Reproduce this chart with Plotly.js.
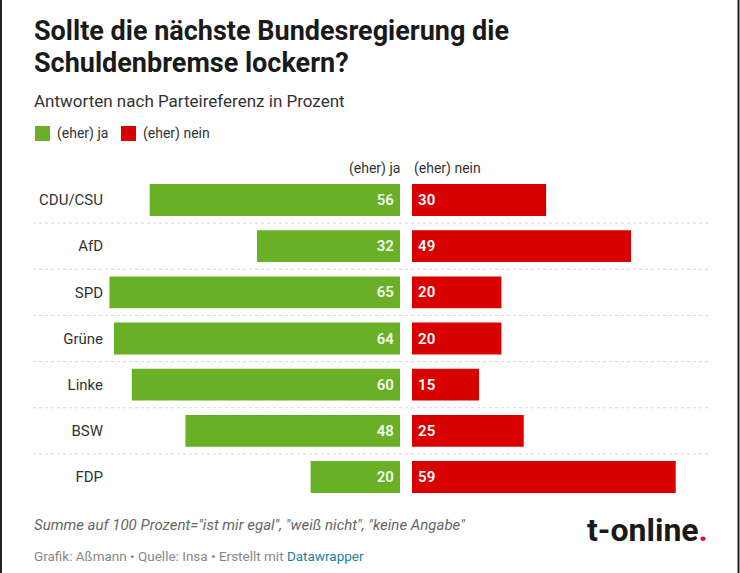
<!DOCTYPE html>
<html><head><meta charset="utf-8">
<script src="https://cdn.plot.ly/plotly-3.0.1.min.js"></script>
<style>html,body{margin:0;padding:0;background:#fff}#c{width:740px;height:573px}</style>
</head><body><div id="c"></div>
<script>
const parties = ["CDU/CSU","AfD","SPD","Grüne","Linke","BSW","FDP"];
const ja = [56,32,65,64,60,48,20];
const nein = [30,49,20,20,15,25,59];
const seriesNames = ["(eher) ja","(eher) nein"];
const colors = ["#69b027","#d90000"];

const W=740,H=573;
const px = x=>x/W, py = y=>1-y/H;
const unit = 4.47;
const jaZero=400, neinZero=412, maxV=70;

const traces = [
 {type:'bar',orientation:'h',y:parties,x:ja,xaxis:'x',yaxis:'y',name:seriesNames[0],
  marker:{color:colors[0]},width:0.69,text:ja.map(v=>v+'\u2009'),textposition:'inside',insidetextanchor:'start',
  textfont:{family:'Roboto',size:15,color:'#f4f9ee',weight:600},cliponaxis:false,hoverinfo:'skip'},
 {type:'bar',orientation:'h',y:parties,x:nein,xaxis:'x2',yaxis:'y2',name:seriesNames[1],
  marker:{color:colors[1]},width:0.69,text:nein.map(v=>'\u2009'+v),textposition:'inside',insidetextanchor:'start',
  textfont:{family:'Roboto',size:15,color:'#ffffff',weight:600},cliponaxis:false,hoverinfo:'skip'}
];

const rowTop=176.9,rowBot=500.1;
const shapes=[];
for(let i=0;i<parties.length-1;i++){
 shapes.push({type:'line',xref:'paper',yref:'y',x0:px(33),x1:px(708),y0:i+0.5,y1:i+0.5,
  line:{color:'#d6d6d6',width:1,dash:'dot'}});
}
shapes.push({type:'line',xref:'paper',yref:'paper',x0:px(1),x1:px(1),y0:0,y1:1,line:{color:'#222',width:2}});
shapes.push({type:'line',xref:'paper',yref:'paper',x0:px(738.5),x1:px(738.5),y0:0,y1:1,line:{color:'#222',width:2}});
// legend squares
shapes.push({type:'rect',xref:'paper',yref:'paper',x0:px(35),x1:px(50),y0:py(141),y1:py(126),fillcolor:colors[0],line:{width:0}});
shapes.push({type:'rect',xref:'paper',yref:'paper',x0:px(121),x1:px(136),y0:py(141),y1:py(126),fillcolor:colors[1],line:{width:0}});

const ann=[
 {text:'<b>Sollte die nächste Bundesregierung die</b>',x:px(32),y:py(31),xanchor:'left',yanchor:'middle',align:'left',
  font:{family:'Roboto',size:27,color:'#1a1a1a'}},
 {text:'<b>Schuldenbremse lockern?</b>',x:px(32),y:py(63),xanchor:'left',yanchor:'middle',align:'left',
  font:{family:'Roboto',size:27,color:'#1a1a1a'}},
 {text:'Antworten nach Parteireferenz in Prozent',x:px(32),y:py(101),xanchor:'left',yanchor:'middle',font:{family:'Roboto',size:17,color:'#333'}},
 {text:seriesNames[0],x:px(55),y:py(133.5),xanchor:'left',yanchor:'middle',font:{family:'Roboto',size:14,color:'#333'}},
 {text:seriesNames[1],x:px(141),y:py(133.5),xanchor:'left',yanchor:'middle',font:{family:'Roboto',size:14,color:'#333'}},
 {text:seriesNames[0],x:px(402),y:py(168),xanchor:'right',yanchor:'middle',font:{family:'Roboto',size:14,color:'#333'}},
 {text:seriesNames[1],x:px(412),y:py(168),xanchor:'left',yanchor:'middle',font:{family:'Roboto',size:14,color:'#333'}},
 {text:'<i>Summe auf 100 Prozent="ist mir egal", "weiß nicht", "keine Angabe"</i>',x:px(32),y:py(525),xanchor:'left',yanchor:'middle',font:{family:'Roboto',size:15,color:'#666'}},
 {text:'Grafik: Aßmann • Quelle: Insa • Erstellt mit <span style="color:#1d81a2">Datawrapper</span>',x:px(32),y:py(556),xanchor:'left',yanchor:'middle',font:{family:'Roboto',size:13.5,color:'#888'}},
 {text:'<b>t-online<span style="color:#e20074">.</span></b>',x:px(710),y:py(530),xanchor:'right',yanchor:'middle',font:{family:'Roboto',size:32,color:'#1a1a1a'}}
];
ann.forEach(a=>{a.xref='paper';a.yref='paper';a.showarrow=false;});

const layout={
 width:W,height:H,margin:{l:0,r:0,t:0,b:0},paper_bgcolor:'#fff',plot_bgcolor:'rgba(0,0,0,0)',
 showlegend:false,barmode:'overlay',
 font:{family:'Roboto'},
 xaxis:{domain:[px(jaZero-maxV*unit),px(jaZero)],range:[maxV,0],visible:false,fixedrange:true},
 xaxis2:{domain:[px(neinZero),px(neinZero+maxV*unit)],range:[0,maxV],visible:false,fixedrange:true},
 yaxis:{domain:[py(rowBot),py(rowTop)],range:[6.5,-0.5],anchor:'free',position:px(103),showline:false,showgrid:false,zeroline:false,
   ticks:'',tickfont:{family:'Roboto',size:15,color:'#333'},type:'category'},
 yaxis2:{domain:[py(rowBot),py(rowTop)],range:[6.5,-0.5],overlaying:'y',anchor:'x2',visible:false,type:'category'},
 shapes:shapes,annotations:ann
};
Plotly.newPlot('c',traces,layout,{staticPlot:true,displayModeBar:false});
</script></body></html>
